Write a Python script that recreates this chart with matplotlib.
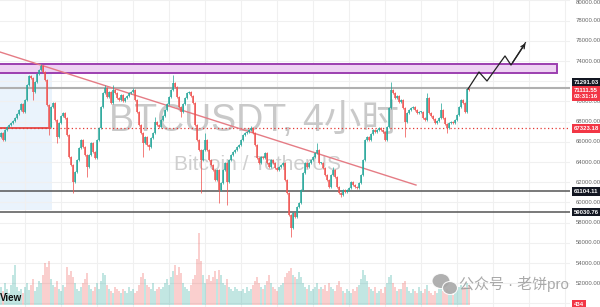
import numpy as np
import matplotlib.pyplot as plt
from matplotlib.patches import Rectangle, Ellipse

plt.rcParams['font.family'] = ['Liberation Sans', 'Noto Sans CJK SC', 'DejaVu Sans']

# BTCUSDT 4h closes (left to right)
closes_a = [66870, 66180, 67170, 67470, 67670, 67860, 68060, 68360, 68750, 69150,
            69740, 68950, 70140, 71630, 72520, 72320, 70930, 71920, 72710, 73110,
            73510, 72910, 72120, 69650, 67470, 69450, 69840, 68160, 66480, 67860,
            68560, 68850, 68360, 66680, 64500, 63710, 62020, 63010, 64200, 65390]
closes_b = [66180, 65490, 64700, 63510, 64700, 65880, 64990, 64400, 66180, 67370,
            69450, 70830, 71330, 70440, 70930, 69840, 71130, 70830, 70340, 70140,
            70640, 70040, 70340, 70540, 70830, 70930, 71130, 70140, 68950, 67670,
            66870, 65880, 66480, 65690, 65490, 66380, 66870, 67960, 67670, 67470]
closes_c = [68160, 68560, 69150, 69740, 70440, 71130, 71820, 71430, 70440, 69450,
            68950, 69740, 70340, 70830, 70930, 70540, 69840, 67670, 66180, 65190,
            64200, 65190, 66180, 65190, 64200, 63710, 63210, 62220, 63210, 61230,
            61920, 63210, 63900, 62020, 64200, 64700, 64990, 65190, 65490, 65690]
closes_d = [66180, 66680, 66870, 66970, 67170, 67370, 66870, 65690, 64400, 63900,
            64500, 64400, 64890, 63900, 63510, 64200, 63900, 63410, 63210, 63510,
            63710, 63900, 62220, 60930, 58760, 57470, 58950, 58560, 59550, 59940,
            61230, 62910, 63900, 63510, 63900, 64200, 64500, 64890, 65190, 63900]
closes_e = [63900, 63410, 62720, 62220, 61530, 62720, 63210, 62520, 61530, 60930,
            60740, 61230, 61030, 61230, 61430, 62020, 61730, 61530, 61430, 61920,
            62720, 64200, 66180, 66480, 66180, 66770, 67170, 66970, 67170, 67370,
            67170, 66970, 66180, 67470, 69350, 71130, 70830, 70340, 70540, 69940]
closes_f = [70140, 69350, 67960, 68850, 69150, 69350, 69450, 69150, 68850, 68950,
            68950, 68360, 68160, 70340, 68850, 68560, 68260, 67860, 68060, 68360,
            69150, 68360, 67760, 67370, 67860, 67960, 67860, 68160, 68660, 69450,
            70140, 69840, 68950, 71250, 71110]
first_open = 66500

# long wicks (candle index -> price)
long_highs = {20: 73700, 52: 71630, 56: 71630, 66: 71330, 77: 68460, 86: 72610,
              102: 66870, 125: 67570, 158: 65880, 166: 63510, 195: 71920,
              213: 70830, 220: 69840}
long_lows = {16: 70140, 24: 66680, 28: 65880, 36: 60930, 43: 62520, 71: 64500,
             74: 65190, 90: 68460, 100: 60930, 109: 59940, 113: 59750, 145: 56580,
             170: 60540, 202: 66480, 223: 66870}

vol_a = [18, 14, 22, 16, 12, 20, 30, 40, 18, 14, 16, 12, 18, 22, 15, 20, 26, 14, 18, 24,
         22, 30, 42, 38, 44, 26, 20, 18, 24, 16, 14, 20, 18, 38, 30, 34, 28, 22, 16, 14]
vol_b = [18, 22, 26, 32, 20, 16, 14, 18, 22, 16, 24, 32, 30, 20, 16, 14, 12, 18, 16, 14,
         12, 16, 14, 12, 18, 14, 16, 12, 14, 20, 28, 32, 26, 20, 18, 16, 22, 14, 16, 18]
vol_c = [16, 18, 22, 26, 20, 28, 34, 40, 30, 38, 32, 22, 18, 16, 14, 20, 26, 30, 46, 72,
         44, 30, 22, 26, 30, 24, 28, 34, 26, 35, 30, 22, 20, 26, 18, 16, 14, 18, 16, 14]
vol_d = [14, 16, 12, 18, 14, 16, 20, 24, 28, 22, 18, 16, 20, 24, 30, 22, 18, 16, 14, 18,
         20, 22, 28, 32, 34, 37, 30, 28, 26, 33, 28, 22, 18, 16, 20, 14, 16, 18, 22, 16]
vol_e = [18, 16, 20, 14, 22, 18, 16, 14, 20, 24, 18, 14, 12, 16, 14, 12, 16, 14, 18, 20,
         26, 35, 30, 24, 18, 16, 14, 18, 12, 14, 16, 12, 18, 22, 28, 30, 22, 18, 14, 16]
vol_f = [16, 22, 24, 18, 14, 12, 16, 14, 12, 18, 14, 12, 16, 20, 14, 12, 10, 14, 12, 16,
         18, 14, 12, 16, 14, 12, 10, 14, 16, 18, 20, 16, 18, 22, 20]

# drawings on the chart
zone_top, zone_bottom = 73720, 72800
level_gray = 71291.03
last_price = 71111.55
level_red = 67323.18
levels_black = [61104.11, 59030.76]
trend_x, trend_y = [-0.5, 207.5], [74890, 61720]
path_x = [233.5, 239, 243, 252, 255, 263]
path_y = [71230, 72910, 72020, 74500, 73600, 75980]

closes = closes_a + closes_b + closes_c + closes_d + closes_e + closes_f
volumes = vol_a + vol_b + vol_c + vol_d + vol_e + vol_f
opens = [first_open] + closes[:-1]
n = len(closes)
idx = np.arange(n)

UP, DOWN = '#26a69a', '#ef5350'

fig = plt.figure(figsize=(6, 3.07), dpi=100)
ax = fig.add_axes([0, 0, 570 / 600, 1])
ax.set_xlim(-0.5, 284.5)
ax.set_ylim(49644, 80040)
for s in ax.spines.values():
    s.set_visible(False)
ax.set_yticks(range(50000, 80001, 2000))
ax.set_xticks(np.arange(12, 285, 18))
ax.tick_params(length=0, labelleft=False, labelbottom=False)
ax.grid(color='#f0f0f0', lw=0.8, zorder=0)
ax.set_axisbelow(True)

# light blue highlight on the left
ax.add_patch(Rectangle((-0.5, 59250), 26, 73500 - 59250, color='#eaf3fc', lw=0, zorder=0.5))

# watermark
ax.text(254 / 570, 1 - 131 / 307, 'BTCUSDT, 4小时', transform=ax.transAxes,
        fontsize=27, color='#c9c9c9', ha='center', va='baseline', zorder=1)
ax.text(258 / 570, 1 - 170 / 307, 'Bitcoin / TetherUS', transform=ax.transAxes,
        fontsize=15, color='#cfcfcf', ha='center', va='baseline', zorder=1)

# supply zone
ax.add_patch(Rectangle((-5, zone_bottom), 283, zone_top - zone_bottom,
                       facecolor='#eed3f3', edgecolor='#9c3fb0', lw=1.4, zorder=2))

# horizontal levels
ax.axhline(level_gray, color='#b0b0b0', lw=1.5, zorder=2)
ax.axhline(level_red, color='#e53935', lw=0.9, ls=(0, (1, 2)), zorder=2)
ax.plot([-0.5, 24.5], [level_red, level_red], color='#e53935', lw=1.2, zorder=2)
for lv in levels_black:
    ax.axhline(lv, color='#555555', lw=1.1, zorder=2)

# trendline
ax.plot(trend_x, trend_y, color='#e57c85', lw=1, zorder=2.5)

# candles
highs, lows = [], []
for i in range(n):
    o, c = opens[i], closes[i]
    highs.append(long_highs.get(i, max(o, c) + 100))
    lows.append(long_lows.get(i, min(o, c) - 100))
colors = [UP if c >= o else DOWN for o, c in zip(opens, closes)]
ax.vlines(idx, lows, highs, colors=colors, lw=0.7, alpha=0.75, zorder=3)
bodies = [max(abs(c - o), 80) for o, c in zip(opens, closes)]
bottoms = [min(o, c) for o, c in zip(opens, closes)]
ax.bar(idx, bodies, bottom=bottoms, width=0.75, color=colors, alpha=0.75, lw=0, zorder=3)

# projected path
ax.plot(path_x[:-1] + [path_x[-1] - 0.8], path_y[:-1] + [path_y[-1] - 170], color='#222222', lw=0.9, zorder=4)
ax.annotate('', xy=(path_x[-1], path_y[-1]), xytext=(path_x[-2], path_y[-2]),
            arrowprops=dict(arrowstyle='->', color='#222222', lw=0.9, mutation_scale=7), zorder=4)

# volume
axv = ax.twinx()
axv.set_ylim(-2, 305)
axv.set_axis_off()
axv.bar(idx, volumes, width=0.75, color=colors, alpha=0.28, lw=0)

# price scale labels
ytr = ax.get_yaxis_transform()
for p in range(52000, 80001, 2000):
    if p == 72000:
        continue
    ax.text(1.01, p - (250 if p == 80000 else 0), f'{p:.2f}', transform=ytr, fontsize=4.3,
            color='#666666', va='center', ha='left', clip_on=False, zorder=5)

def tag(price, text, fc):
    ax.text(1.007, price, text, transform=ytr, fontsize=4.3, color='white', weight='bold',
            va='center', ha='left', clip_on=False, zorder=6,
            bbox=dict(boxstyle='square,pad=0.3', fc=fc, ec='none'))

tag(71900, f'{level_gray:.2f}', '#131722')
tag(71080, f'{last_price:.2f}', '#f23645')
tag(70440, '03:31:16', '#f23645')
tag(level_red, f'{level_red:.2f}', '#f23645')
for lv in levels_black:
    tag(lv, f'{lv:.2f}', '#131722')
tag(49900, '434', '#f23645')

# logo fragment and WeChat watermark
fig.text(0.0, 1 - 298 / 307, 'View', fontsize=7, weight='bold', color='#111111', va='center')
fig.add_artist(Ellipse((441 / 600, 1 - 281 / 307), 18 / 600, 15 / 307, transform=fig.transFigure,
                       fc='#a8a8a8', ec='white', lw=0.8, alpha=0.9))
fig.add_artist(Ellipse((450 / 600, 1 - 288 / 307), 15 / 600, 13 / 307, transform=fig.transFigure,
                       fc='#a8a8a8', ec='white', lw=0.8, alpha=0.9))
fig.text(459 / 600, 1 - 284 / 307, '公众号 · 老饼pro', fontsize=10.8, color='#a0a0a0',
         va='center', ha='left', alpha=0.9)

fig.savefig('out.png', dpi=100)
